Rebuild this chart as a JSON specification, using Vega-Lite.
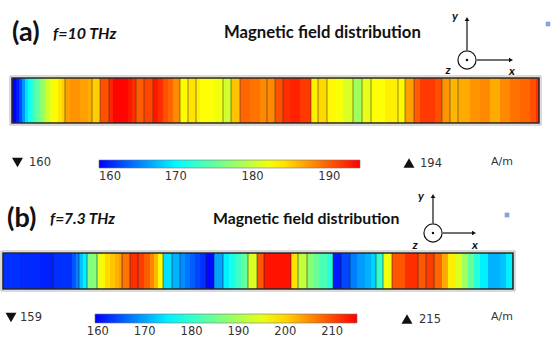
{
  "$schema": "https://vega.github.io/schema/vega-lite/v6.json",
  "width": 551,
  "height": 337,
  "padding": 0,
  "autosize": {"type": "none"},
  "background": "white",
  "config": {
    "view": {"stroke": null},
    "axis": {"disable": true},
    "text": {"font": "Lato", "color": "#111"}
  },
  "datasets": {
    "fieldA": [
      {"p0": 0, "p1": 4, "H": 160}, {"p0": 4, "p1": 7, "H": 161}, {"p0": 7, "p1": 10, "H": 163},
      {"p0": 10, "p1": 13, "H": 166}, {"p0": 13, "p1": 16, "H": 169}, {"p0": 16, "p1": 19, "H": 171},
      {"p0": 19, "p1": 22, "H": 172.5}, {"p0": 22, "p1": 25, "H": 174}, {"p0": 25, "p1": 28, "H": 175.5},
      {"p0": 28, "p1": 31, "H": 177}, {"p0": 31, "p1": 34, "H": 178.5}, {"p0": 34, "p1": 38, "H": 180.5},
      {"p0": 38, "p1": 42, "H": 182}, {"p0": 42, "p1": 46, "H": 183}, {"p0": 46, "p1": 50, "H": 184},
      {"p0": 50, "p1": 53, "H": 185}, {"p0": 53, "p1": 58, "H": 187}, {"p0": 58, "p1": 68, "H": 187.5},
      {"p0": 68, "p1": 76, "H": 187}, {"p0": 76, "p1": 80, "H": 186.5}, {"p0": 80, "p1": 88, "H": 185},
      {"p0": 88, "p1": 97, "H": 190.5}, {"p0": 97, "p1": 101, "H": 192.5}, {"p0": 101, "p1": 116, "H": 193.8},
      {"p0": 116, "p1": 120, "H": 193}, {"p0": 120, "p1": 124, "H": 192}, {"p0": 124, "p1": 132, "H": 190},
      {"p0": 132, "p1": 141, "H": 191}, {"p0": 141, "p1": 146, "H": 193}, {"p0": 146, "p1": 151, "H": 192},
      {"p0": 151, "p1": 156, "H": 190.5}, {"p0": 156, "p1": 161, "H": 189.5}, {"p0": 161, "p1": 168, "H": 188},
      {"p0": 168, "p1": 176, "H": 183}, {"p0": 176, "p1": 184, "H": 184}, {"p0": 184, "p1": 188, "H": 183.5},
      {"p0": 188, "p1": 203, "H": 182.7}, {"p0": 203, "p1": 211, "H": 182}, {"p0": 211, "p1": 219, "H": 180.5},
      {"p0": 219, "p1": 228, "H": 185.5}, {"p0": 228, "p1": 238, "H": 189.5}, {"p0": 238, "p1": 248, "H": 189},
      {"p0": 248, "p1": 255, "H": 188}, {"p0": 255, "p1": 263, "H": 188}, {"p0": 263, "p1": 271, "H": 190.5},
      {"p0": 271, "p1": 278, "H": 192}, {"p0": 278, "p1": 288, "H": 192.5}, {"p0": 288, "p1": 299, "H": 191.5},
      {"p0": 299, "p1": 306, "H": 183.5}, {"p0": 306, "p1": 315, "H": 184.5}, {"p0": 315, "p1": 323, "H": 183},
      {"p0": 323, "p1": 331, "H": 182.5}, {"p0": 331, "p1": 341, "H": 181}, {"p0": 341, "p1": 350, "H": 178},
      {"p0": 350, "p1": 359, "H": 181.5}, {"p0": 359, "p1": 373, "H": 182.7}, {"p0": 373, "p1": 386, "H": 183.5},
      {"p0": 386, "p1": 393, "H": 183}, {"p0": 393, "p1": 402, "H": 187}, {"p0": 402, "p1": 408, "H": 190},
      {"p0": 408, "p1": 423, "H": 191.5}, {"p0": 423, "p1": 430, "H": 190.5}, {"p0": 430, "p1": 438, "H": 187.5},
      {"p0": 438, "p1": 446, "H": 186}, {"p0": 446, "p1": 458, "H": 186.5}, {"p0": 458, "p1": 468, "H": 187.5},
      {"p0": 468, "p1": 478, "H": 188}, {"p0": 478, "p1": 488, "H": 186.5}, {"p0": 488, "p1": 498, "H": 188},
      {"p0": 498, "p1": 508, "H": 189}, {"p0": 508, "p1": 518, "H": 189.5}, {"p0": 518, "p1": 524, "H": 190.5},
      {"p0": 524, "p1": 527, "H": 192}
    ],
    "layersA": [
      {"pos": 53}, {"pos": 80}, {"pos": 88}, {"pos": 97}, {"pos": 124}, {"pos": 132}, {"pos": 141},
      {"pos": 168}, {"pos": 176}, {"pos": 184}, {"pos": 211}, {"pos": 219}, {"pos": 228}, {"pos": 255},
      {"pos": 263}, {"pos": 271}, {"pos": 299}, {"pos": 306}, {"pos": 315}, {"pos": 341}, {"pos": 350},
      {"pos": 359}, {"pos": 386}, {"pos": 393}, {"pos": 402}, {"pos": 430}, {"pos": 438}, {"pos": 446}
    ],
    "fieldB": [
      {"p0": 0, "p1": 17, "H": 162.5}, {"p0": 17, "p1": 37, "H": 162}, {"p0": 37, "p1": 50, "H": 161.5},
      {"p0": 50, "p1": 69, "H": 162.5}, {"p0": 69, "p1": 73, "H": 165}, {"p0": 73, "p1": 76, "H": 168},
      {"p0": 76, "p1": 80, "H": 172}, {"p0": 80, "p1": 84, "H": 175}, {"p0": 84, "p1": 94, "H": 187},
      {"p0": 94, "p1": 98, "H": 195}, {"p0": 98, "p1": 102, "H": 197.5}, {"p0": 102, "p1": 107, "H": 199.5},
      {"p0": 107, "p1": 112, "H": 201}, {"p0": 112, "p1": 116, "H": 202.5}, {"p0": 116, "p1": 119, "H": 204},
      {"p0": 119, "p1": 127, "H": 207}, {"p0": 127, "p1": 135, "H": 212}, {"p0": 135, "p1": 141, "H": 211},
      {"p0": 141, "p1": 147, "H": 208.5}, {"p0": 147, "p1": 151, "H": 205.5}, {"p0": 151, "p1": 155, "H": 202},
      {"p0": 155, "p1": 160, "H": 197}, {"p0": 160, "p1": 169, "H": 174}, {"p0": 169, "p1": 177, "H": 171},
      {"p0": 177, "p1": 182, "H": 168.5}, {"p0": 182, "p1": 187, "H": 167}, {"p0": 187, "p1": 192, "H": 165.5},
      {"p0": 192, "p1": 197, "H": 164}, {"p0": 197, "p1": 203, "H": 162.5}, {"p0": 203, "p1": 211, "H": 160},
      {"p0": 211, "p1": 220, "H": 170}, {"p0": 220, "p1": 226, "H": 175}, {"p0": 226, "p1": 232, "H": 178},
      {"p0": 232, "p1": 238, "H": 181}, {"p0": 238, "p1": 245, "H": 184}, {"p0": 245, "p1": 254, "H": 194},
      {"p0": 254, "p1": 261, "H": 209}, {"p0": 261, "p1": 288, "H": 214}, {"p0": 288, "p1": 295, "H": 199},
      {"p0": 295, "p1": 304, "H": 192}, {"p0": 304, "p1": 311, "H": 187}, {"p0": 311, "p1": 317, "H": 184.5},
      {"p0": 317, "p1": 324, "H": 182}, {"p0": 324, "p1": 330, "H": 179}, {"p0": 330, "p1": 338, "H": 161},
      {"p0": 338, "p1": 347, "H": 164}, {"p0": 347, "p1": 354, "H": 167.5}, {"p0": 354, "p1": 362, "H": 169.5},
      {"p0": 362, "p1": 368, "H": 171}, {"p0": 368, "p1": 373, "H": 173}, {"p0": 373, "p1": 380, "H": 180},
      {"p0": 380, "p1": 389, "H": 196}, {"p0": 389, "p1": 402, "H": 209}, {"p0": 402, "p1": 415, "H": 212},
      {"p0": 415, "p1": 423, "H": 209}, {"p0": 423, "p1": 431, "H": 211}, {"p0": 431, "p1": 439, "H": 208},
      {"p0": 439, "p1": 445, "H": 203}, {"p0": 445, "p1": 452, "H": 198}, {"p0": 452, "p1": 459, "H": 194},
      {"p0": 459, "p1": 465, "H": 189}, {"p0": 465, "p1": 471, "H": 184}, {"p0": 471, "p1": 477, "H": 179},
      {"p0": 477, "p1": 485, "H": 175}, {"p0": 485, "p1": 497, "H": 171}, {"p0": 497, "p1": 503, "H": 172},
      {"p0": 503, "p1": 510, "H": 175}
    ],
    "layersB": [
      {"pos": 50}, {"pos": 76}, {"pos": 84}, {"pos": 94}, {"pos": 119}, {"pos": 127}, {"pos": 135},
      {"pos": 160}, {"pos": 169}, {"pos": 177}, {"pos": 203}, {"pos": 211}, {"pos": 220}, {"pos": 245},
      {"pos": 254}, {"pos": 261}, {"pos": 288}, {"pos": 295}, {"pos": 304}, {"pos": 330}, {"pos": 338},
      {"pos": 347}, {"pos": 373}, {"pos": 380}, {"pos": 389}, {"pos": 415}, {"pos": 423}, {"pos": 431}
    ]
  },
  "data": {"values": [{}]},
  "layer": [
    {
      "layer": [
        {
          "data": {"name": "fieldA"},
          "mark": {"type": "rect"},
          "encoding": {
            "x": {"field": "p0", "type": "quantitative", "scale": {"domain": [0, 527], "range": [12, 539], "nice": false, "zero": false}, "axis": null},
            "x2": {"field": "p1"},
            "y": {"datum": 78, "type": "quantitative", "scale": {"domain": [0, 337], "range": [0, 337], "nice": false, "zero": false}, "axis": null},
            "y2": {"datum": 123},
            "color": {
              "field": "H", "type": "quantitative",
              "scale": {"domain": [160, 170.2, 182.8, 194], "range": ["#0000ff", "#00ffff", "#ffff00", "#ff0000"], "interpolate": "rgb"},
              "legend": {
                "orient": "none", "legendX": 99, "legendY": 160, "direction": "horizontal",
                "gradientLength": 261, "gradientThickness": 8, "title": null, "padding": 0,
                "values": [160, 170, 180, 190], "labelAlign": "center", "labelOverlap": false,
                "labelFont": "DejaVu Sans", "labelFontSize": 11.5, "labelColor": "#333", "labelOffset": 3,
                "gradientStrokeColor": "#777", "gradientStrokeWidth": 0.6
              }
            }
          }
        },
        {
          "data": {"name": "layersA"},
          "mark": {"type": "rule", "color": "#3a3020", "opacity": 0.55, "strokeWidth": 1},
          "encoding": {
            "x": {"field": "pos", "type": "quantitative", "scale": {"domain": [0, 527], "range": [12, 539], "nice": false, "zero": false}, "axis": null},
            "y": {"datum": 78, "type": "quantitative", "scale": {"domain": [0, 337], "range": [0, 337], "nice": false, "zero": false}, "axis": null},
            "y2": {"datum": 123}
          }
        },
        {
          "mark": {"type": "rect", "fill": null, "stroke": "#b5b5b5", "strokeWidth": 1},
          "encoding": {
            "x": {"datum": -2, "type": "quantitative", "scale": {"domain": [0, 527], "range": [12, 539], "nice": false, "zero": false}, "axis": null},
            "x2": {"datum": 529},
            "y": {"datum": 76, "type": "quantitative", "scale": {"domain": [0, 337], "range": [0, 337], "nice": false, "zero": false}, "axis": null},
            "y2": {"datum": 125}
          }
        },
        {
          "mark": {"type": "rect", "fill": null, "stroke": "#262626", "strokeWidth": 1.6},
          "encoding": {
            "x": {"datum": 0, "type": "quantitative", "scale": {"domain": [0, 527], "range": [12, 539], "nice": false, "zero": false}, "axis": null},
            "x2": {"datum": 527},
            "y": {"datum": 78, "type": "quantitative", "scale": {"domain": [0, 337], "range": [0, 337], "nice": false, "zero": false}, "axis": null},
            "y2": {"datum": 123}
          }
        },
        {
          "mark": {"type": "text", "text": "(a)", "fontSize": 27, "fontWeight": "bold", "align": "left", "baseline": "middle"},
          "encoding": {
            "x": {"datum": 0, "type": "quantitative", "scale": {"domain": [0, 527], "range": [12, 539], "nice": false, "zero": false}, "axis": null},
            "y": {"datum": 33, "type": "quantitative", "scale": {"domain": [0, 337], "range": [0, 337], "nice": false, "zero": false}, "axis": null}
          }
        },
        {
          "mark": {"type": "text", "text": "f=10 THz", "fontSize": 16, "fontWeight": "bold", "fontStyle": "italic", "align": "left", "baseline": "middle"},
          "encoding": {
            "x": {"datum": 41, "type": "quantitative", "scale": {"domain": [0, 527], "range": [12, 539], "nice": false, "zero": false}, "axis": null},
            "y": {"datum": 34, "type": "quantitative", "scale": {"domain": [0, 337], "range": [0, 337], "nice": false, "zero": false}, "axis": null}
          }
        },
        {
          "mark": {"type": "text", "text": "Magnetic field distribution", "fontSize": 16.7, "fontWeight": "bold", "align": "left", "baseline": "middle"},
          "encoding": {
            "x": {"datum": 212, "type": "quantitative", "scale": {"domain": [0, 527], "range": [12, 539], "nice": false, "zero": false}, "axis": null},
            "y": {"datum": 33, "type": "quantitative", "scale": {"domain": [0, 337], "range": [0, 337], "nice": false, "zero": false}, "axis": null}
          }
        },
        {
          "mark": {"type": "rule", "color": "#111", "strokeWidth": 1.2},
          "encoding": {
            "x": {"datum": 455, "type": "quantitative", "scale": {"domain": [0, 527], "range": [12, 539], "nice": false, "zero": false}, "axis": null},
            "y": {"datum": 20, "type": "quantitative", "scale": {"domain": [0, 337], "range": [0, 337], "nice": false, "zero": false}, "axis": null},
            "y2": {"datum": 50}
          }
        },
        {
          "mark": {"type": "rule", "color": "#111", "strokeWidth": 1.2},
          "encoding": {
            "x": {"datum": 465, "type": "quantitative", "scale": {"domain": [0, 527], "range": [12, 539], "nice": false, "zero": false}, "axis": null},
            "x2": {"datum": 497},
            "y": {"datum": 60, "type": "quantitative", "scale": {"domain": [0, 337], "range": [0, 337], "nice": false, "zero": false}, "axis": null}
          }
        },
        {
          "mark": {"type": "point", "shape": "triangle-up", "filled": true, "color": "#111", "size": 22, "opacity": 1},
          "encoding": {
            "x": {"datum": 455, "type": "quantitative", "scale": {"domain": [0, 527], "range": [12, 539], "nice": false, "zero": false}, "axis": null},
            "y": {"datum": 19, "type": "quantitative", "scale": {"domain": [0, 337], "range": [0, 337], "nice": false, "zero": false}, "axis": null}
          }
        },
        {
          "mark": {"type": "point", "shape": "triangle-right", "filled": true, "color": "#111", "size": 22, "opacity": 1},
          "encoding": {
            "x": {"datum": 499, "type": "quantitative", "scale": {"domain": [0, 527], "range": [12, 539], "nice": false, "zero": false}, "axis": null},
            "y": {"datum": 60, "type": "quantitative", "scale": {"domain": [0, 337], "range": [0, 337], "nice": false, "zero": false}, "axis": null}
          }
        },
        {
          "mark": {"type": "point", "shape": "circle", "filled": false, "fill": "white", "stroke": "#111", "strokeWidth": 1.2, "size": 330, "opacity": 1},
          "encoding": {
            "x": {"datum": 455, "type": "quantitative", "scale": {"domain": [0, 527], "range": [12, 539], "nice": false, "zero": false}, "axis": null},
            "y": {"datum": 60, "type": "quantitative", "scale": {"domain": [0, 337], "range": [0, 337], "nice": false, "zero": false}, "axis": null}
          }
        },
        {
          "mark": {"type": "point", "shape": "circle", "filled": true, "color": "#111", "size": 6, "opacity": 1},
          "encoding": {
            "x": {"datum": 455, "type": "quantitative", "scale": {"domain": [0, 527], "range": [12, 539], "nice": false, "zero": false}, "axis": null},
            "y": {"datum": 60, "type": "quantitative", "scale": {"domain": [0, 337], "range": [0, 337], "nice": false, "zero": false}, "axis": null}
          }
        },
        {
          "mark": {"type": "text", "text": "y", "fontSize": 12, "fontWeight": "bold", "fontStyle": "italic", "align": "center", "baseline": "middle"},
          "encoding": {
            "x": {"datum": 443, "type": "quantitative", "scale": {"domain": [0, 527], "range": [12, 539], "nice": false, "zero": false}, "axis": null},
            "y": {"datum": 16, "type": "quantitative", "scale": {"domain": [0, 337], "range": [0, 337], "nice": false, "zero": false}, "axis": null}
          }
        },
        {
          "mark": {"type": "text", "text": "z", "fontSize": 12, "fontWeight": "bold", "fontStyle": "italic", "align": "center", "baseline": "middle"},
          "encoding": {
            "x": {"datum": 436, "type": "quantitative", "scale": {"domain": [0, 527], "range": [12, 539], "nice": false, "zero": false}, "axis": null},
            "y": {"datum": 70, "type": "quantitative", "scale": {"domain": [0, 337], "range": [0, 337], "nice": false, "zero": false}, "axis": null}
          }
        },
        {
          "mark": {"type": "text", "text": "x", "fontSize": 12, "fontWeight": "bold", "fontStyle": "italic", "align": "center", "baseline": "middle"},
          "encoding": {
            "x": {"datum": 500, "type": "quantitative", "scale": {"domain": [0, 527], "range": [12, 539], "nice": false, "zero": false}, "axis": null},
            "y": {"datum": 71, "type": "quantitative", "scale": {"domain": [0, 337], "range": [0, 337], "nice": false, "zero": false}, "axis": null}
          }
        },
        {
          "mark": {"type": "point", "shape": "square", "filled": true, "color": "#7fa6d8", "size": 22, "opacity": 1},
          "encoding": {
            "x": {"datum": 536, "type": "quantitative", "scale": {"domain": [0, 527], "range": [12, 539], "nice": false, "zero": false}, "axis": null},
            "y": {"datum": 24, "type": "quantitative", "scale": {"domain": [0, 337], "range": [0, 337], "nice": false, "zero": false}, "axis": null}
          }
        },
        {
          "mark": {"type": "point", "shape": "triangle-down", "filled": true, "color": "#111", "size": 120, "opacity": 1},
          "encoding": {
            "x": {"datum": 5.5, "type": "quantitative", "scale": {"domain": [0, 527], "range": [12, 539], "nice": false, "zero": false}, "axis": null},
            "y": {"datum": 162.5, "type": "quantitative", "scale": {"domain": [0, 337], "range": [0, 337], "nice": false, "zero": false}, "axis": null}
          }
        },
        {
          "mark": {"type": "text", "text": "160", "font": "DejaVu Sans", "fontSize": 11.5, "color": "#333", "align": "left", "baseline": "middle"},
          "encoding": {
            "x": {"datum": 17, "type": "quantitative", "scale": {"domain": [0, 527], "range": [12, 539], "nice": false, "zero": false}, "axis": null},
            "y": {"datum": 163, "type": "quantitative", "scale": {"domain": [0, 337], "range": [0, 337], "nice": false, "zero": false}, "axis": null}
          }
        },
        {
          "mark": {"type": "point", "shape": "triangle-up", "filled": true, "color": "#111", "size": 120, "opacity": 1},
          "encoding": {
            "x": {"datum": 397, "type": "quantitative", "scale": {"domain": [0, 527], "range": [12, 539], "nice": false, "zero": false}, "axis": null},
            "y": {"datum": 163, "type": "quantitative", "scale": {"domain": [0, 337], "range": [0, 337], "nice": false, "zero": false}, "axis": null}
          }
        },
        {
          "mark": {"type": "text", "text": "194", "font": "DejaVu Sans", "fontSize": 11.5, "color": "#333", "align": "left", "baseline": "middle"},
          "encoding": {
            "x": {"datum": 408, "type": "quantitative", "scale": {"domain": [0, 527], "range": [12, 539], "nice": false, "zero": false}, "axis": null},
            "y": {"datum": 164, "type": "quantitative", "scale": {"domain": [0, 337], "range": [0, 337], "nice": false, "zero": false}, "axis": null}
          }
        },
        {
          "mark": {"type": "text", "text": "A/m", "font": "DejaVu Sans", "fontSize": 11, "color": "#333", "align": "left", "baseline": "middle"},
          "encoding": {
            "x": {"datum": 479, "type": "quantitative", "scale": {"domain": [0, 527], "range": [12, 539], "nice": false, "zero": false}, "axis": null},
            "y": {"datum": 162, "type": "quantitative", "scale": {"domain": [0, 337], "range": [0, 337], "nice": false, "zero": false}, "axis": null}
          }
        }
      ]
    },
    {
      "layer": [
        {
          "data": {"name": "fieldB"},
          "mark": {"type": "rect"},
          "encoding": {
            "x": {"field": "p0", "type": "quantitative", "scale": {"domain": [0, 510], "range": [3, 513], "nice": false, "zero": false}, "axis": null},
            "x2": {"field": "p1"},
            "y": {"datum": 253, "type": "quantitative", "scale": {"domain": [0, 337], "range": [0, 337], "nice": false, "zero": false}, "axis": null},
            "y2": {"datum": 289},
            "color": {
              "field": "H", "type": "quantitative",
              "scale": {"domain": [159.4, 175.9, 196.9, 215.3], "range": ["#0000ff", "#00ffff", "#ffff00", "#ff0000"], "interpolate": "rgb"},
              "legend": {
                "orient": "none", "legendX": 95, "legendY": 314, "direction": "horizontal",
                "gradientLength": 262, "gradientThickness": 9, "title": null, "padding": 0,
                "values": [160, 170, 180, 190, 200, 210], "labelAlign": "center", "labelOverlap": false,
                "labelFont": "DejaVu Sans", "labelFontSize": 11.5, "labelColor": "#333", "labelOffset": 3,
                "gradientStrokeColor": "#777", "gradientStrokeWidth": 0.6
              }
            }
          }
        },
        {
          "data": {"name": "layersB"},
          "mark": {"type": "rule", "color": "#102030", "opacity": 0.55, "strokeWidth": 1},
          "encoding": {
            "x": {"field": "pos", "type": "quantitative", "scale": {"domain": [0, 510], "range": [3, 513], "nice": false, "zero": false}, "axis": null},
            "y": {"datum": 253, "type": "quantitative", "scale": {"domain": [0, 337], "range": [0, 337], "nice": false, "zero": false}, "axis": null},
            "y2": {"datum": 289}
          }
        },
        {
          "mark": {"type": "rect", "fill": null, "stroke": "#b5b5b5", "strokeWidth": 1},
          "encoding": {
            "x": {"datum": -2, "type": "quantitative", "scale": {"domain": [0, 510], "range": [3, 513], "nice": false, "zero": false}, "axis": null},
            "x2": {"datum": 512},
            "y": {"datum": 251, "type": "quantitative", "scale": {"domain": [0, 337], "range": [0, 337], "nice": false, "zero": false}, "axis": null},
            "y2": {"datum": 291}
          }
        },
        {
          "mark": {"type": "rect", "fill": null, "stroke": "#262626", "strokeWidth": 1.6},
          "encoding": {
            "x": {"datum": 0, "type": "quantitative", "scale": {"domain": [0, 510], "range": [3, 513], "nice": false, "zero": false}, "axis": null},
            "x2": {"datum": 510},
            "y": {"datum": 253, "type": "quantitative", "scale": {"domain": [0, 337], "range": [0, 337], "nice": false, "zero": false}, "axis": null},
            "y2": {"datum": 289}
          }
        },
        {
          "mark": {"type": "text", "text": "(b)", "fontSize": 27, "fontWeight": "bold", "align": "left", "baseline": "middle"},
          "encoding": {
            "x": {"datum": 4, "type": "quantitative", "scale": {"domain": [0, 510], "range": [3, 513], "nice": false, "zero": false}, "axis": null},
            "y": {"datum": 219, "type": "quantitative", "scale": {"domain": [0, 337], "range": [0, 337], "nice": false, "zero": false}, "axis": null}
          }
        },
        {
          "mark": {"type": "text", "text": "f=7.3 THz", "fontSize": 15.5, "fontWeight": "bold", "fontStyle": "italic", "align": "left", "baseline": "middle"},
          "encoding": {
            "x": {"datum": 47, "type": "quantitative", "scale": {"domain": [0, 510], "range": [3, 513], "nice": false, "zero": false}, "axis": null},
            "y": {"datum": 219, "type": "quantitative", "scale": {"domain": [0, 337], "range": [0, 337], "nice": false, "zero": false}, "axis": null}
          }
        },
        {
          "mark": {"type": "text", "text": "Magnetic field distribution", "fontSize": 15.8, "fontWeight": "bold", "align": "left", "baseline": "middle"},
          "encoding": {
            "x": {"datum": 210, "type": "quantitative", "scale": {"domain": [0, 510], "range": [3, 513], "nice": false, "zero": false}, "axis": null},
            "y": {"datum": 219, "type": "quantitative", "scale": {"domain": [0, 337], "range": [0, 337], "nice": false, "zero": false}, "axis": null}
          }
        },
        {
          "mark": {"type": "rule", "color": "#111", "strokeWidth": 1.2},
          "encoding": {
            "x": {"datum": 430, "type": "quantitative", "scale": {"domain": [0, 510], "range": [3, 513], "nice": false, "zero": false}, "axis": null},
            "y": {"datum": 197, "type": "quantitative", "scale": {"domain": [0, 337], "range": [0, 337], "nice": false, "zero": false}, "axis": null},
            "y2": {"datum": 223}
          }
        },
        {
          "mark": {"type": "rule", "color": "#111", "strokeWidth": 1.2},
          "encoding": {
            "x": {"datum": 440, "type": "quantitative", "scale": {"domain": [0, 510], "range": [3, 513], "nice": false, "zero": false}, "axis": null},
            "x2": {"datum": 469},
            "y": {"datum": 233, "type": "quantitative", "scale": {"domain": [0, 337], "range": [0, 337], "nice": false, "zero": false}, "axis": null}
          }
        },
        {
          "mark": {"type": "point", "shape": "triangle-up", "filled": true, "color": "#111", "size": 22, "opacity": 1},
          "encoding": {
            "x": {"datum": 430, "type": "quantitative", "scale": {"domain": [0, 510], "range": [3, 513], "nice": false, "zero": false}, "axis": null},
            "y": {"datum": 196, "type": "quantitative", "scale": {"domain": [0, 337], "range": [0, 337], "nice": false, "zero": false}, "axis": null}
          }
        },
        {
          "mark": {"type": "point", "shape": "triangle-right", "filled": true, "color": "#111", "size": 22, "opacity": 1},
          "encoding": {
            "x": {"datum": 471, "type": "quantitative", "scale": {"domain": [0, 510], "range": [3, 513], "nice": false, "zero": false}, "axis": null},
            "y": {"datum": 233, "type": "quantitative", "scale": {"domain": [0, 337], "range": [0, 337], "nice": false, "zero": false}, "axis": null}
          }
        },
        {
          "mark": {"type": "point", "shape": "circle", "filled": false, "fill": "white", "stroke": "#111", "strokeWidth": 1.2, "size": 330, "opacity": 1},
          "encoding": {
            "x": {"datum": 430, "type": "quantitative", "scale": {"domain": [0, 510], "range": [3, 513], "nice": false, "zero": false}, "axis": null},
            "y": {"datum": 233, "type": "quantitative", "scale": {"domain": [0, 337], "range": [0, 337], "nice": false, "zero": false}, "axis": null}
          }
        },
        {
          "mark": {"type": "point", "shape": "circle", "filled": true, "color": "#111", "size": 6, "opacity": 1},
          "encoding": {
            "x": {"datum": 430, "type": "quantitative", "scale": {"domain": [0, 510], "range": [3, 513], "nice": false, "zero": false}, "axis": null},
            "y": {"datum": 233, "type": "quantitative", "scale": {"domain": [0, 337], "range": [0, 337], "nice": false, "zero": false}, "axis": null}
          }
        },
        {
          "mark": {"type": "text", "text": "y", "fontSize": 12, "fontWeight": "bold", "fontStyle": "italic", "align": "center", "baseline": "middle"},
          "encoding": {
            "x": {"datum": 418, "type": "quantitative", "scale": {"domain": [0, 510], "range": [3, 513], "nice": false, "zero": false}, "axis": null},
            "y": {"datum": 196, "type": "quantitative", "scale": {"domain": [0, 337], "range": [0, 337], "nice": false, "zero": false}, "axis": null}
          }
        },
        {
          "mark": {"type": "text", "text": "z", "fontSize": 12, "fontWeight": "bold", "fontStyle": "italic", "align": "center", "baseline": "middle"},
          "encoding": {
            "x": {"datum": 412, "type": "quantitative", "scale": {"domain": [0, 510], "range": [3, 513], "nice": false, "zero": false}, "axis": null},
            "y": {"datum": 245, "type": "quantitative", "scale": {"domain": [0, 337], "range": [0, 337], "nice": false, "zero": false}, "axis": null}
          }
        },
        {
          "mark": {"type": "text", "text": "x", "fontSize": 12, "fontWeight": "bold", "fontStyle": "italic", "align": "center", "baseline": "middle"},
          "encoding": {
            "x": {"datum": 472, "type": "quantitative", "scale": {"domain": [0, 510], "range": [3, 513], "nice": false, "zero": false}, "axis": null},
            "y": {"datum": 245, "type": "quantitative", "scale": {"domain": [0, 337], "range": [0, 337], "nice": false, "zero": false}, "axis": null}
          }
        },
        {
          "mark": {"type": "point", "shape": "square", "filled": true, "color": "#7fa6d8", "size": 22, "opacity": 1},
          "encoding": {
            "x": {"datum": 504, "type": "quantitative", "scale": {"domain": [0, 510], "range": [3, 513], "nice": false, "zero": false}, "axis": null},
            "y": {"datum": 215, "type": "quantitative", "scale": {"domain": [0, 337], "range": [0, 337], "nice": false, "zero": false}, "axis": null}
          }
        },
        {
          "mark": {"type": "point", "shape": "triangle-down", "filled": true, "color": "#111", "size": 120, "opacity": 1},
          "encoding": {
            "x": {"datum": 8, "type": "quantitative", "scale": {"domain": [0, 510], "range": [3, 513], "nice": false, "zero": false}, "axis": null},
            "y": {"datum": 317.5, "type": "quantitative", "scale": {"domain": [0, 337], "range": [0, 337], "nice": false, "zero": false}, "axis": null}
          }
        },
        {
          "mark": {"type": "text", "text": "159", "font": "DejaVu Sans", "fontSize": 11.5, "color": "#333", "align": "left", "baseline": "middle"},
          "encoding": {
            "x": {"datum": 17, "type": "quantitative", "scale": {"domain": [0, 510], "range": [3, 513], "nice": false, "zero": false}, "axis": null},
            "y": {"datum": 318, "type": "quantitative", "scale": {"domain": [0, 337], "range": [0, 337], "nice": false, "zero": false}, "axis": null}
          }
        },
        {
          "mark": {"type": "point", "shape": "triangle-up", "filled": true, "color": "#111", "size": 120, "opacity": 1},
          "encoding": {
            "x": {"datum": 404, "type": "quantitative", "scale": {"domain": [0, 510], "range": [3, 513], "nice": false, "zero": false}, "axis": null},
            "y": {"datum": 319, "type": "quantitative", "scale": {"domain": [0, 337], "range": [0, 337], "nice": false, "zero": false}, "axis": null}
          }
        },
        {
          "mark": {"type": "text", "text": "215", "font": "DejaVu Sans", "fontSize": 11.5, "color": "#333", "align": "left", "baseline": "middle"},
          "encoding": {
            "x": {"datum": 416, "type": "quantitative", "scale": {"domain": [0, 510], "range": [3, 513], "nice": false, "zero": false}, "axis": null},
            "y": {"datum": 320, "type": "quantitative", "scale": {"domain": [0, 337], "range": [0, 337], "nice": false, "zero": false}, "axis": null}
          }
        },
        {
          "mark": {"type": "text", "text": "A/m", "font": "DejaVu Sans", "fontSize": 11, "color": "#333", "align": "left", "baseline": "middle"},
          "encoding": {
            "x": {"datum": 488, "type": "quantitative", "scale": {"domain": [0, 510], "range": [3, 513], "nice": false, "zero": false}, "axis": null},
            "y": {"datum": 317, "type": "quantitative", "scale": {"domain": [0, 337], "range": [0, 337], "nice": false, "zero": false}, "axis": null}
          }
        }
      ]
    }
  ],
  "resolve": {"scale": {"x": "independent", "color": "independent"}}
}
